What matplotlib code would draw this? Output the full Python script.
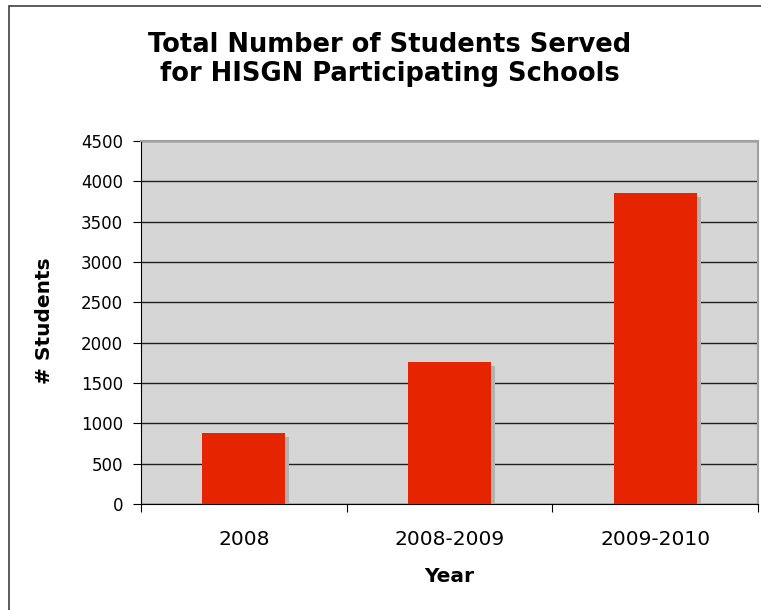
import matplotlib.pyplot as plt
import matplotlib.transforms as mtransforms
from matplotlib.patches import Rectangle

years = ["2008", "2008-2009", "2009-2010"]
students = [880, 1760, 3850]
yticks = [0, 500, 1000, 1500, 2000, 2500, 3000, 3500, 4000, 4500]

W, H = 761, 610
fig = plt.figure(figsize=(W / 100, H / 100), dpi=100)

# outer chart frame (runs off the right and bottom edges)
fig.patches.append(Rectangle((9 / W, -0.05), 1.1, 1 - 6 / H + 0.05,
                             transform=fig.transFigure, fill=False,
                             edgecolor="#404040", linewidth=1.2))

ax = fig.add_axes([141 / W, 106 / H, 617 / W, 363 / H])
ax.set_facecolor("#d6d6d6")

x = list(range(len(years)))
shadow = ax.transData + mtransforms.ScaledTranslation(4 / 100, -4 / 100, fig.dpi_scale_trans)
ax.bar(x, students, width=0.405, color="#b2b2b2", transform=shadow, zorder=2)
ax.bar(x, students, width=0.405, color="#e62500", zorder=3)

ax.set_xlim(-0.5, 2.5)
ax.set_ylim(0, 4500)
ax.set_yticks(yticks)
ax.set_yticklabels([str(v) for v in yticks], fontsize=12)
ax.yaxis.grid(True, color="#202020", linewidth=1)
ax.set_axisbelow(True)

ax.set_xticks([-0.5, 0.5, 1.5, 2.5])
ax.set_xticklabels([])
ax.set_xticks(x, minor=True)
ax.set_xticklabels(years, minor=True, fontsize=14.5)
ax.tick_params(axis="x", which="minor", length=0, pad=19)
ax.tick_params(axis="x", which="major", length=6, direction="out")
ax.tick_params(axis="y", length=6, direction="out", pad=7)

for side in ["top", "right"]:
    ax.spines[side].set_color("#a0a0a0")
    ax.spines[side].set_linewidth(1.5)
for side in ["left", "bottom"]:
    ax.spines[side].set_color("#000000")

fig.text(449 / W, 1 - 577 / H, "Year", ha="center", va="center",
         fontsize=14.5, fontweight="bold")
fig.text(45 / W, 1 - 321 / H, "# Students", ha="center", va="center",
         rotation=90, fontsize=14.5, fontweight="bold")

fig.text(390 / W, 1 - 45 / H, "Total Number of Students Served",
         ha="center", va="center", fontsize=18.5, fontweight="bold")
fig.text(390 / W, 1 - 74 / H, "for HISGN Participating Schools",
         ha="center", va="center", fontsize=18.5, fontweight="bold")

fig.savefig("out.png", dpi=100)
